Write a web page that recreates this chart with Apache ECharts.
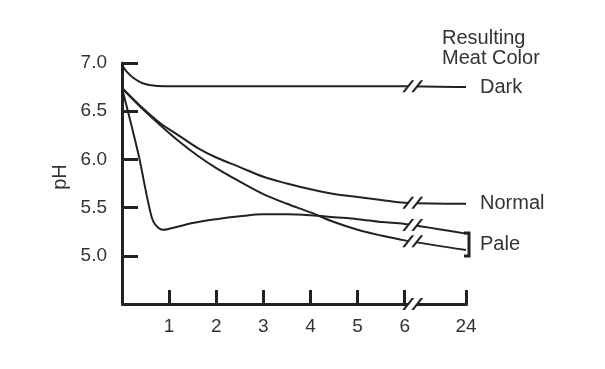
<!DOCTYPE html>
<html><head><meta charset="utf-8">
<script src="https://cdn.jsdelivr.net/npm/echarts@6/dist/echarts.min.js"></script>
<style>html,body{margin:0;padding:0;background:#fff}#c{width:605px;height:369px}</style>
</head><body><div id="c"></div>
<script>
// Hours post mortem and pH values
const hoursDark = [0, 0.1, 0.23, 0.44, 0.7, 1, 2, 3, 4, 5, 6, 24];
const phDark = [6.98, 6.91, 6.85, 6.79, 6.765, 6.76, 6.76, 6.76, 6.76, 6.76, 6.76, 6.75];

const hoursNormal = [0, 0.4, 0.8, 1.2, 1.6, 2, 2.5, 3, 3.5, 4, 4.5, 5, 5.5, 6, 24];
const phNormal = [6.74, 6.55, 6.38, 6.25, 6.12, 6.02, 5.92, 5.82, 5.75, 5.69, 5.64, 5.61, 5.58, 5.55, 5.54];

const hoursPaleSlow = [0, 0.4, 0.8, 1.2, 1.6, 2, 2.5, 3, 3.5, 4, 4.5, 5, 5.5, 6, 24];
const phPaleSlow = [6.74, 6.54, 6.36, 6.19, 6.04, 5.91, 5.77, 5.64, 5.54, 5.45, 5.35, 5.27, 5.21, 5.16, 5.06];

const hoursPaleFast = [0, 0.35, 0.49, 0.58, 0.66, 0.77, 0.87, 1, 1.5, 2, 2.5, 3, 3.5, 4, 4.5, 5, 5.5, 6, 24];
const phPaleFast = [6.74, 6.05, 5.71, 5.50, 5.36, 5.29, 5.27, 5.28, 5.34, 5.38, 5.41, 5.43, 5.43, 5.42, 5.40, 5.38, 5.35, 5.33, 5.23];

const xTickValues = [1, 2, 3, 4, 5, 6, 24];
const yTickValues = [5.0, 5.5, 6.0, 6.5, 7.0];
const colorLabels = ['Dark', 'Normal', 'Pale'];
const legendTitle = 'Resulting\nMeat Color';
const yName = 'pH';

// axis range, axis break (hours 6 -> 24) and where the "//" marks sit
const xMin = 0, xMax = 24, yMin = 4.5, yMax = 7.0;
const breakStart = 6.3, breakEnd = 23.7, breakGap = 0.7;
const markHour = 6.17;
const markPh = { dark: 6.76, normal: 5.55, fast: 5.32, slow: 5.15, axis: 4.5 };

const FONT = 'Liberation Sans, Arial, sans-serif';
const INK = '#222';
const TXT = '#333';

const slashPath = 'path://M0,12 L2.6,12 L12,0 L9.4,0 Z M9,12 L11.6,12 L21,0 L18.4,0 Z';
const gapPath = 'path://M2.6,12 L9,12 L18.4,0 L12,0 Z';

function breakMarks(v) {
  return [
    { coord: [markHour, v], symbol: gapPath, itemStyle: { color: '#fff' } },
    { coord: [markHour, v], symbol: slashPath, itemStyle: { color: INK } }
  ];
}
function pairs(hs, vs) { return hs.map((h, i) => [h, vs[i]]); }

function lineSeries(name, hs, vs, marks, endText, z) {
  const s = {
    name: name, type: 'line', showSymbol: false, smooth: 0.35, z: z,
    lineStyle: { color: INK, width: 2 },
    data: pairs(hs, vs),
    markPoint: {
      symbolSize: [21, 12], silent: true, label: { show: false },
      data: marks, z: 10
    }
  };
  if (endText) {
    s.endLabel = { show: true, formatter: endText, distance: 14, fontSize: 20, color: TXT, fontFamily: FONT };
  }
  return s;
}

const darkSeries = lineSeries('Dark', hoursDark, phDark, breakMarks(markPh.dark).concat(breakMarks(markPh.axis)), colorLabels[0], 3);
// continuous x axis line through the break (the reference shows it unbroken with "//")
darkSeries.markLine = {
  silent: true, symbol: ['none', 'none'], label: { show: false }, z: 5,
  lineStyle: { color: INK, width: 3, type: 'solid' },
  data: [[{ coord: [xMin, yMin] }, { coord: [xMax, yMin] }]]
};

const chart = echarts.init(document.getElementById('c'), null, { renderer: 'canvas' });
chart.setOption({
  animation: false,
  backgroundColor: '#fff',
  title: {
    text: legendTitle, left: 442, top: 28, padding: 0,
    textStyle: { fontSize: 20, lineHeight: 20, fontWeight: 'normal', color: TXT, fontFamily: FONT }
  },
  grid: { left: 122, right: 139, top: 63, bottom: 65, outerBoundsMode: 'none', containLabel: false },
  xAxis: {
    type: 'value', min: xMin, max: xMax,
    breaks: [{ start: breakStart, end: breakEnd, gap: breakGap }],
    breakArea: { show: false },
    axisLine: { show: true, lineStyle: { color: INK, width: 3 } },
    axisTick: { show: true, inside: true, length: 14, customValues: xTickValues, lineStyle: { color: INK, width: 3 } },
    axisLabel: { customValues: xTickValues, margin: 13, fontSize: 19, color: TXT, fontFamily: FONT },
    splitLine: { show: false }
  },
  yAxis: {
    type: 'value', min: yMin, max: yMax,
    axisLine: { show: true, lineStyle: { color: INK, width: 3 } },
    axisTick: { show: true, inside: true, length: 16, customValues: yTickValues, lineStyle: { color: INK, width: 3 } },
    axisLabel: { customValues: yTickValues, formatter: v => v.toFixed(1), margin: 15, fontSize: 19, color: TXT, fontFamily: FONT },
    splitLine: { show: false }
  },
  series: [
    darkSeries,
    lineSeries('Normal', hoursNormal, phNormal, breakMarks(markPh.normal), colorLabels[1], 3),
    lineSeries('PaleFast', hoursPaleFast, phPaleFast, breakMarks(markPh.fast), null, 3),
    lineSeries('PaleSlow', hoursPaleSlow, phPaleSlow, breakMarks(markPh.slow), null, 3)
  ],
  graphic: [
    { type: 'text', x: 60, y: 177, rotation: Math.PI / 2,
      style: { text: yName, fontSize: 20, fontFamily: FONT, fill: TXT, align: 'center', verticalAlign: 'middle' } },
    { type: 'text', x: 480, y: 244.5,
      style: { text: colorLabels[2], fontSize: 20, fontFamily: FONT, fill: TXT, align: 'left', verticalAlign: 'middle' } },
    { type: 'polyline', shape: { points: [[464, 233], [469, 233], [469, 256], [464, 256]] },
      style: { stroke: INK, lineWidth: 3, fill: null } }
  ]
});
</script>
</body></html>
